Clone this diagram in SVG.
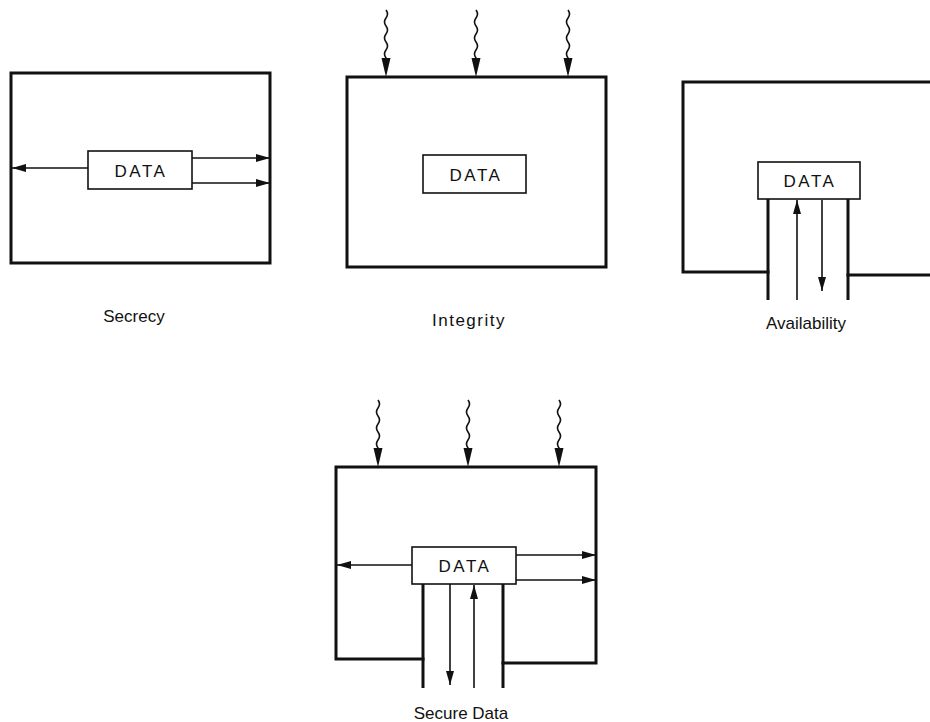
<svg xmlns="http://www.w3.org/2000/svg" width="930" height="722" viewBox="0 0 930 722">
<style>
.frame{fill:none;stroke:#111;stroke-width:3;stroke-linecap:square}
.data{fill:#fff;stroke:#111;stroke-width:1.6}
.dt{font-family:"Liberation Sans",Arial,sans-serif;font-size:17px;letter-spacing:2.5px;fill:#111;text-anchor:middle}
.lbl{font-family:"Liberation Sans",Arial,sans-serif;font-size:17px;fill:#111;text-anchor:middle}
.arr{fill:none;stroke:#111;stroke-width:1.6;marker-end:url(#ah)}
.wave{fill:none;stroke:#111;stroke-width:1.6}
.chan{fill:none;stroke:#111;stroke-width:3}
</style>
<defs>
<marker id="ah" markerUnits="userSpaceOnUse" markerWidth="15" markerHeight="8" refX="14" refY="4" orient="auto">
<path d="M0,0 L14,4 L0,8 z" fill="#111"/>
</marker>
<path id="wv" d="M0,0 q3,4 0,8 q-3,4 0,8 q3,4 0,8 q-3,4 0,8 q3,4 0,8 q-3,4 0,8 l0,10" class="wave"/>
<path id="wh" d="M-4.5,0 L4.5,0 L0,19 z" fill="#111"/>
</defs>

<g id="secrecy">
<rect class="frame" x="11" y="73" width="259" height="190"/>
<rect class="data" x="88" y="151" width="104" height="38"/>
<text class="dt" x="141" y="177">DATA</text>
<text class="lbl" x="134" y="322">Secrecy</text>
</g>

<g id="integrity">
<rect class="frame" x="347" y="77" width="259" height="190"/>
<rect class="data" x="423" y="155" width="103" height="38"/>
<text class="dt" x="476" y="181">DATA</text>
<text class="lbl" x="469" y="326" letter-spacing="1.5">Integrity</text>
</g>

<g id="availability">
<path class="frame" d="M768,272 L683,272 L683,82 L932,82"/>
<path class="frame" d="M848,275 L932,275"/>
<rect class="data" x="758" y="162" width="102" height="37"/>
<text class="dt" x="810" y="187">DATA</text>
<text class="lbl" x="806" y="329">Availability</text>
</g>

<g id="secure-data">
<path class="frame" d="M423,659 L336,659 L336,467 L596,467 L596,663 L503,663"/>
<rect class="data" x="412" y="547" width="104" height="37"/>
<text class="dt" x="465" y="572">DATA</text>
<text class="lbl" x="461" y="719">Secure Data</text>
</g>

<g id="connectors">
<!-- secrecy -->
<line class="arr" x1="88" y1="168" x2="12" y2="168"/>
<line class="arr" x1="192" y1="158" x2="270" y2="158"/>
<line class="arr" x1="192" y1="183" x2="270" y2="183"/>
<!-- integrity waves -->
<use href="#wv" x="386" y="10"/><use href="#wh" x="386" y="58"/>
<use href="#wv" x="476" y="10"/><use href="#wh" x="476" y="58"/>
<use href="#wv" x="568" y="10"/><use href="#wh" x="568" y="58"/>
<!-- availability -->
<line class="chan" x1="768" y1="199" x2="768" y2="300"/>
<line class="chan" x1="848" y1="199" x2="848" y2="300"/>
<line class="arr" x1="797" y1="300" x2="797" y2="200"/>
<line class="arr" x1="822" y1="200" x2="822" y2="291"/>
<!-- secure data waves -->
<use href="#wv" x="378" y="400"/><use href="#wh" x="378" y="448"/>
<use href="#wv" x="468" y="400"/><use href="#wh" x="468" y="448"/>
<use href="#wv" x="559" y="400"/><use href="#wh" x="559" y="448"/>
<!-- secure data arrows -->
<line class="arr" x1="412" y1="565" x2="337" y2="565"/>
<line class="arr" x1="516" y1="555" x2="596" y2="555"/>
<line class="arr" x1="516" y1="580" x2="596" y2="580"/>
<line class="chan" x1="423" y1="584" x2="423" y2="688"/>
<line class="chan" x1="503" y1="584" x2="503" y2="688"/>
<line class="arr" x1="450" y1="584" x2="450" y2="685"/>
<line class="arr" x1="474" y1="688" x2="474" y2="585"/>
</g>
</svg>
